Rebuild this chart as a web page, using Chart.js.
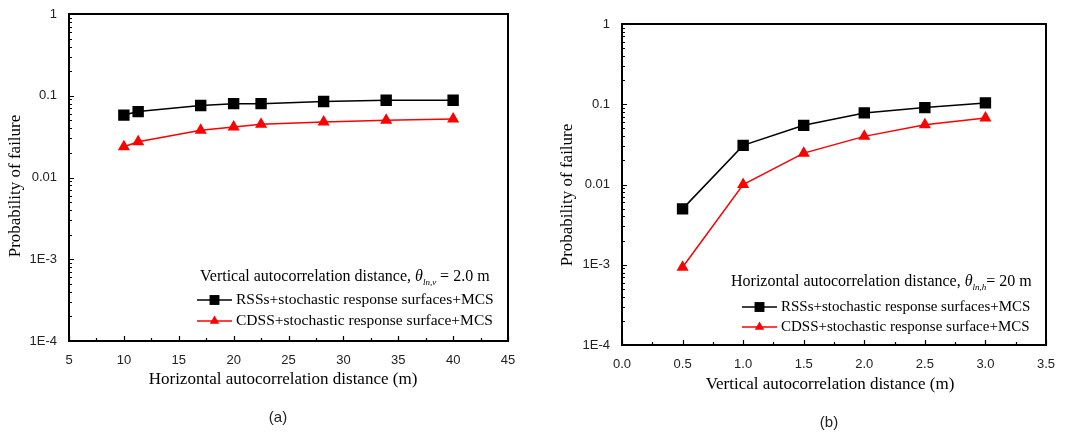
<!DOCTYPE html>
<html>
<head>
<meta charset="utf-8">
<script src="https://cdn.jsdelivr.net/npm/chart.js@4.4.1/dist/chart.umd.min.js"></script>
<style>
  body { margin: 0; background: #fff; }
  #wrap { position: relative; width: 1066px; height: 434px; overflow: hidden; }
  .panel { position: absolute; top: 0; width: 533px; height: 434px; }
  .tag { position: absolute; font: 15px "Liberation Sans", Arial, sans-serif; color: #222; transform: translate(-50%, -50%); }
</style>
</head>
<body>
<div id="wrap">
  <div class="panel" style="left:0"><canvas id="chartA" width="533" height="434"></canvas></div>
  <div class="panel" style="left:533px"><canvas id="chartB" width="533" height="434"></canvas></div>
  <div class="tag" style="left:278px;top:416px">(a)</div>
  <div class="tag" style="left:829px;top:421px">(b)</div>
</div>
<script>
// panel (a): vertical autocorrelation distance fixed at 2.0 m
var hDist = [10, 11.3, 17, 20, 22.5, 28.2, 33.9, 40];
var rssA = [0.058, 0.064, 0.076, 0.080, 0.080, 0.085, 0.088, 0.088];
var cdssA = [0.0238, 0.0274, 0.0378, 0.0415, 0.0447, 0.0478, 0.0501, 0.052];

// panel (b): horizontal autocorrelation distance fixed at 20 m
var vDist = [0.5, 1.0, 1.5, 2.0, 2.5, 3.0];
var rssB = [0.00497, 0.0307, 0.0546, 0.078, 0.0908, 0.104];
var cdssB = [0.00093, 0.0100, 0.0246, 0.0398, 0.0557, 0.0675];

var yTicks = [1e-4, 1e-3, 0.01, 0.1, 1];
var yTickLabels = ["1E-4", "1E-3", "0.01", "0.1", "1"];
var seriesNames = ["RSSs+stochastic response surfaces+MCS", "CDSS+stochastic response surface+MCS"];

var serif = '"Liberation Serif", "Times New Roman", serif';
var sans = '"Liberation Sans", Arial, sans-serif';

function pts(xs, ys) {
    var out = [];
    for (var i = 0; i < xs.length; i++) {
        out.push({ x: xs[i], y: ys[i] });
    }
    return out;
}

function drawMarker(ctx, style, x, y, r) {
    ctx.beginPath();
    if (style === 'rect') {
        var s = r * Math.SQRT1_2;
        ctx.rect(x - s, y - s, 2 * s, 2 * s);
    } else {
        var h = r * 1.5, w = r * Math.sqrt(3);
        ctx.moveTo(x, y - r);
        ctx.lineTo(x + w / 2, y - r + h);
        ctx.lineTo(x - w / 2, y - r + h);
        ctx.closePath();
    }
    ctx.fill();
}

// box, inward ticks, axis titles and the in-plot legend
var framePlugin = {
    id: 'frame',
    afterDraw: function (chart, args, o) {
        var ctx = chart.ctx, a = chart.chartArea;
        var xs = chart.scales.x, ys = chart.scales.y;
        ctx.save();
        ctx.strokeStyle = '#000';
        ctx.lineWidth = 1.2;
        ctx.beginPath();
        for (var d = -4; d < 0; d++) {
            for (var k = 1; k <= 9; k++) {
                var py = Math.round(ys.getPixelForValue(k * Math.pow(10, d))) + 0.5;
                var len = k === 1 ? 5 : 3;
                ctx.moveTo(a.left, py);
                ctx.lineTo(a.left + len, py);
            }
        }
        for (var v = xs.min; v <= xs.max + 1e-9; v += o.xStep / 2) {
            var px = Math.round(xs.getPixelForValue(v)) + 0.5;
            var major = Math.abs(Math.round((v - xs.min) / o.xStep) - (v - xs.min) / o.xStep) < 1e-6;
            ctx.moveTo(px, a.bottom);
            ctx.lineTo(px, a.bottom - (major ? 5 : 3));
        }
        ctx.stroke();

        ctx.lineWidth = 2;
        ctx.strokeRect(a.left, a.top, a.right - a.left, a.bottom - a.top);

        // axis titles
        ctx.fillStyle = '#000';
        ctx.font = '17px ' + serif;
        ctx.textAlign = 'center';
        ctx.textBaseline = 'middle';
        ctx.fillText(o.xTitle, o.xTitlePos[0], o.xTitlePos[1]);
        ctx.save();
        ctx.translate(o.yTitlePos[0], o.yTitlePos[1]);
        ctx.rotate(-Math.PI / 2);
        ctx.fillText('Probability of failure', 0, 0);
        ctx.restore();

        // note line with theta and subscript
        ctx.textAlign = 'left';
        var x = o.notePos[0], y = o.notePos[1];
        ctx.font = '16px ' + serif;
        ctx.fillText(o.noteText, x, y);
        x += ctx.measureText(o.noteText).width;
        ctx.font = 'italic 16px ' + serif;
        ctx.fillText('\u03b8', x, y);
        x += ctx.measureText('\u03b8').width;
        ctx.font = 'italic 9px ' + serif;
        ctx.fillText(o.noteSub, x, y + 6);
        x += ctx.measureText(o.noteSub).width;
        ctx.font = '16px ' + serif;
        ctx.fillText(o.noteTail, x, y);

        // legend entries
        var lg = o.legendPos;
        chart.data.datasets.forEach(function (ds, i) {
            var ly = lg[1] + i * lg[2];
            ctx.strokeStyle = ds.borderColor;
            ctx.lineWidth = 1.5;
            ctx.beginPath();
            ctx.moveTo(lg[0], ly);
            ctx.lineTo(lg[0] + 35, ly);
            ctx.stroke();
            ctx.fillStyle = ds.backgroundColor;
            drawMarker(ctx, ds.pointStyle, lg[0] + 17.5, ly, ds.pointRadius);
            ctx.fillStyle = '#000';
            ctx.font = o.legendFont + 'px ' + serif;
            ctx.fillText(ds.label, lg[0] + 39, ly);
        });
        ctx.restore();
    }
};

function makeChart(id, xs, rss, cdss, xMin, xMax, xStep, decimals, box, extra) {
    var pad = box.pad;
    return new Chart(document.getElementById(id), {
        type: 'line',
        data: {
            datasets: [
                {
                    label: seriesNames[0],
                    data: pts(xs, rss),
                    borderColor: '#000000',
                    backgroundColor: '#000000',
                    borderWidth: 1.5,
                    pointStyle: 'rect',
                    pointRadius: 7,
                    pointHoverRadius: 7,
                    tension: 0
                },
                {
                    label: seriesNames[1],
                    data: pts(xs.slice(0, cdss.length), cdss),
                    borderColor: '#ff0000',
                    backgroundColor: '#ff0000',
                    borderWidth: 1.5,
                    pointStyle: 'triangle',
                    pointRadius: 5.5,
                    pointHoverRadius: 5.5,
                    tension: 0
                }
            ]
        },
        options: {
            responsive: false,
            animation: false,
            events: [],
            layout: { padding: pad },
            plugins: {
                legend: { display: false },
                tooltip: { enabled: false },
                frame: extra
            },
            scales: {
                x: {
                    type: 'linear',
                    min: xMin,
                    max: xMax,
                    grid: { display: false },
                    border: { display: false },
                    ticks: {
                        stepSize: xStep,
                        padding: 4,
                        color: '#222',
                        font: { family: sans, size: 13 },
                        maxRotation: 0,
                        callback: function (v) { return v.toFixed(decimals); }
                    },
                    afterFit: function (s) { s.height = box.xHeight; }
                },
                y: {
                    type: 'logarithmic',
                    min: 1e-4,
                    max: 1,
                    grid: { display: false },
                    border: { display: false },
                    afterBuildTicks: function (s) {
                        s.ticks = yTicks.map(function (v) { return { value: v }; });
                    },
                    ticks: {
                        padding: 4,
                        color: '#222',
                        font: { family: sans, size: 13 },
                        callback: function (v) {
                            var i = yTicks.indexOf(v);
                            return i >= 0 ? yTickLabels[i] : '';
                        }
                    },
                    afterFit: function (s) { s.width = box.yWidth; }
                }
            }
        },
        plugins: [framePlugin]
    });
}

makeChart('chartA', hDist, rssA, cdssA, 5, 45, 5, 0,
    { pad: { left: 6, right: 25, top: 14, bottom: 44 }, yWidth: 63, xHeight: 49 },
    {
        xStep: 5,
        xTitle: 'Horizontal autocorrelation distance (m)',
        xTitlePos: [283, 380],
        yTitlePos: [16, 186],
        noteText: 'Vertical autocorrelation distance, ',
        noteSub: 'ln,v',
        noteTail: ' = 2.0 m',
        notePos: [200, 277],
        legendPos: [197, 300, 21],
        legendFont: 15.5
    });

makeChart('chartB', vDist, rssB, cdssB, 0, 3.5, 0.5, 1,
    { pad: { left: 25, right: 20, top: 24, bottom: 39 }, yWidth: 64, xHeight: 50 },
    {
        xStep: 0.5,
        xTitle: 'Vertical autocorrelation distance (m)',
        xTitlePos: [297, 385],
        yTitlePos: [35, 195],
        noteText: 'Horizontal autocorrelation distance, ',
        noteSub: 'ln,h',
        noteTail: '= 20 m',
        notePos: [198, 282],
        legendPos: [209, 307, 20],
        legendFont: 15
    });
</script>
</body>
</html>
